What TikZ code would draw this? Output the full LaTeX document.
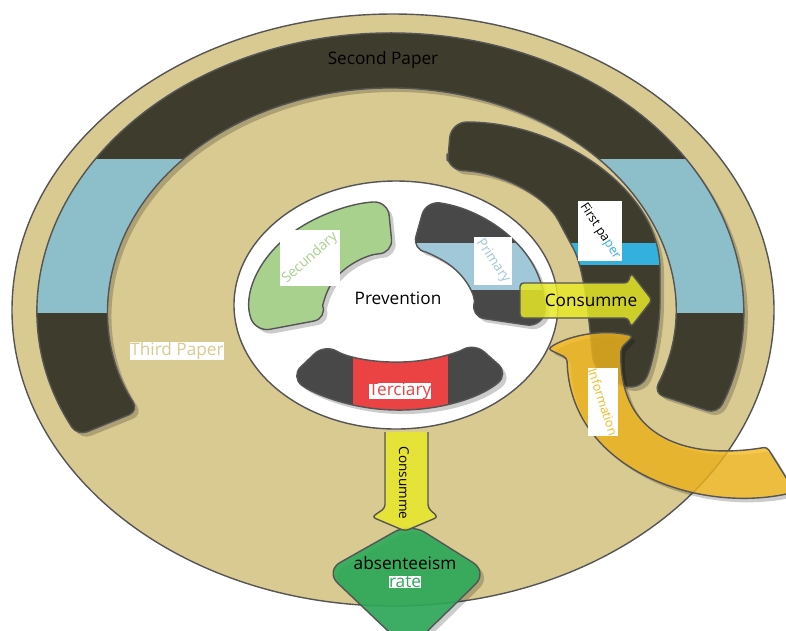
\documentclass[tikz,border=0pt]{standalone}
\usepackage{fontspec}
\setmainfont{Open Sans}
\definecolor{paperTan}{RGB}{217,202,146}
\definecolor{paperDark}{RGB}{62,60,45}
\definecolor{paperBlue}{RGB}{141,191,202}
\definecolor{firstBlue}{RGB}{51,176,221}
\definecolor{partDark}{RGB}{72,72,72}
\definecolor{partGreen}{RGB}{169,209,142}
\definecolor{partBlue}{RGB}{160,200,216}
\definecolor{partRed}{RGB}{235,67,67}
\definecolor{rimGray}{RGB}{85,85,85}
\definecolor{arrowYellow}{RGB}{232,232,40}
\definecolor{infoOrange}{RGB}{245,185,30}
\definecolor{rateGreen}{RGB}{45,170,90}
\newcommand{\bandtwo}{([shift={(391,310)}]153:352 and 277) arc[start angle=153, end angle=382, x radius=352, y radius=277] -- ([shift={(391,310)}]382:283 and 222) arc[start angle=382, end angle=153, x radius=283, y radius=222] -- cycle}
\newcommand{\bandone}{(447,170) -- (451,122) .. controls (560,122) and (660,190) .. (660,285) .. controls (660,330) and (652,368) .. (638,392) -- (594,372) .. controls (590,330) and (585,270) .. (566,235) .. controls (545,195) and (500,172) .. (447,170) -- cycle}
\newcommand{\partsec}{([shift={(398,305)}]165:147 and 104) arc[start angle=165, end angle=266, x radius=147, y radius=104] -- ([shift={(398,305)}]266:73 and 52) arc[start angle=266, end angle=165, x radius=73, y radius=52] -- cycle}
\newcommand{\partpri}{([shift={(398,305)}]281:146 and 106) arc[start angle=281, end angle=372, x radius=146, y radius=106] -- ([shift={(398,305)}]372:74 and 56) arc[start angle=372, end angle=281, x radius=74, y radius=56] -- cycle}
\newcommand{\partter}{([shift={(398,305)}]41:147 and 105) arc[start angle=41, end angle=137, x radius=147, y radius=105] -- ([shift={(398,305)}]137:100 and 57) arc[start angle=137, end angle=41, x radius=100, y radius=57] -- cycle}
\newcommand{\infoarrow}{(548,349) .. controls (565,337) and (600,328) .. (633,336) -- (621,348) .. controls (618,440) and (690,460) .. (767,447) -- (795,492) .. controls (700,515) and (570,470) .. (567,358) -- cycle}
\begin{document}
\begin{tikzpicture}[x=0.02cm, y=-0.02cm, line join=round, font=\fontsize{9.8}{11}\selectfont, rim/.style={draw=rimGray, line width=0.8pt}, tag/.style={fill=white, inner sep=0pt}, castshadow/.style={fill=black, fill opacity=0.2, shift={(4,4)}}]
\useasboundingbox (0,0) rectangle (786,630);
\draw[rim, fill=paperTan] (393,310) ellipse [x radius=381, y radius=296];
\fill[castshadow, rounded corners=6] \bandtwo;
\fill[paperDark, rounded corners=6] \bandtwo;
\begin{scope}
\clip[rounded corners=6] \bandtwo;
\fill[paperBlue] (0,159) rectangle (786,313);
\end{scope}
\draw[rim, rounded corners=6] \bandtwo;
\fill[castshadow, rounded corners=9] \bandone;
\fill[paperDark, rounded corners=9] \bandone;
\begin{scope}
\clip[rounded corners=9] \bandone;
\fill[firstBlue] (540,243) rectangle (680,265);
\end{scope}
\draw[rim, rounded corners=9] \bandone;
\draw[rim, fill=white] (396,305) ellipse [x radius=162, y radius=124];
\fill[castshadow, rounded corners=8] \partsec;
\draw[rim, fill=partGreen, rounded corners=8] \partsec;
\fill[castshadow, rounded corners=8] \partpri;
\fill[partDark, rounded corners=8] \partpri;
\begin{scope}
\clip[rounded corners=8] \partpri;
\fill[partBlue] (400,243) rectangle (560,290);
\end{scope}
\draw[rim, rounded corners=8] \partpri;
\fill[castshadow, rounded corners=8] \partter;
\fill[partDark, rounded corners=8] \partter;
\begin{scope}
\clip[rounded corners=8] \partter;
\fill[partRed] (353,330) rectangle (448,420);
\end{scope}
\draw[rim, rounded corners=8] \partter;
\draw[rim, fill=arrowYellow, fill opacity=0.85, rounded corners=2] (520,283) -- (628,283) -- (631,273) -- (652,300) -- (631,327) -- (628,318) -- (520,318) -- cycle;
\fill[castshadow, rounded corners=2] \infoarrow;
\draw[rim, fill=infoOrange, fill opacity=0.8, rounded corners=2] \infoarrow;
\fill[castshadow, rounded corners=10] (410,523) -- (488,572) -- (408,650) -- (325,571) -- cycle;
\draw[rim, fill=rateGreen, fill opacity=0.9, rounded corners=10] (410,523) -- (488,572) -- (408,650) -- (325,571) -- cycle;
\fill[arrowYellow, fill opacity=0.85, rounded corners=2] (385,432) -- (385,508) -- (372,517) -- (405,531) -- (438,517) -- (428,508) -- (428,432) -- cycle;
\draw[rim, rounded corners=2] (385,432) -- (385,508) -- (372,517) -- (405,531) -- (438,517) -- (428,508) -- (428,432);
\node (secondpaper) at (383,60) {Second Paper};
\node[tag, text=paperTan] (thirdpaper) at (177,351) {Third Paper};
\node (prevention) at (398,298) {Prevention};
\node[tag, text=partGreen, font=\fontsize{8}{9}\selectfont] (secundary) at (310,258) {\rotatebox{42}{Secundary}};
\node[tag, text=partBlue, font=\fontsize{7.7}{9}\selectfont] (primary) at (493,261) {\rotatebox{-56}{Primary}};
\node[tag, text=partRed] (terciary) at (400,391) {Terciary};
\node[tag, font=\fontsize{7.2}{9}\selectfont] (firstpaper) at (600,231) {\rotatebox{-57}{First pa\textcolor{firstBlue}{per}}};
\node[tag, text=infoOrange, font=\fontsize{7.1}{9}\selectfont] (information) at (603,402) {\rotatebox{-72}{Information}};
\node (consumeright) at (591,300) {Consumme};
\node[font=\fontsize{7.7}{9}\selectfont] (consumedown) at (404,483) {\rotatebox{-90}{Consumme}};
\node (absenteeism) at (405,563) {absenteeism};
\node[tag, text=rateGreen] (rate) at (405,582) {rate};
\end{tikzpicture}
\end{document}
